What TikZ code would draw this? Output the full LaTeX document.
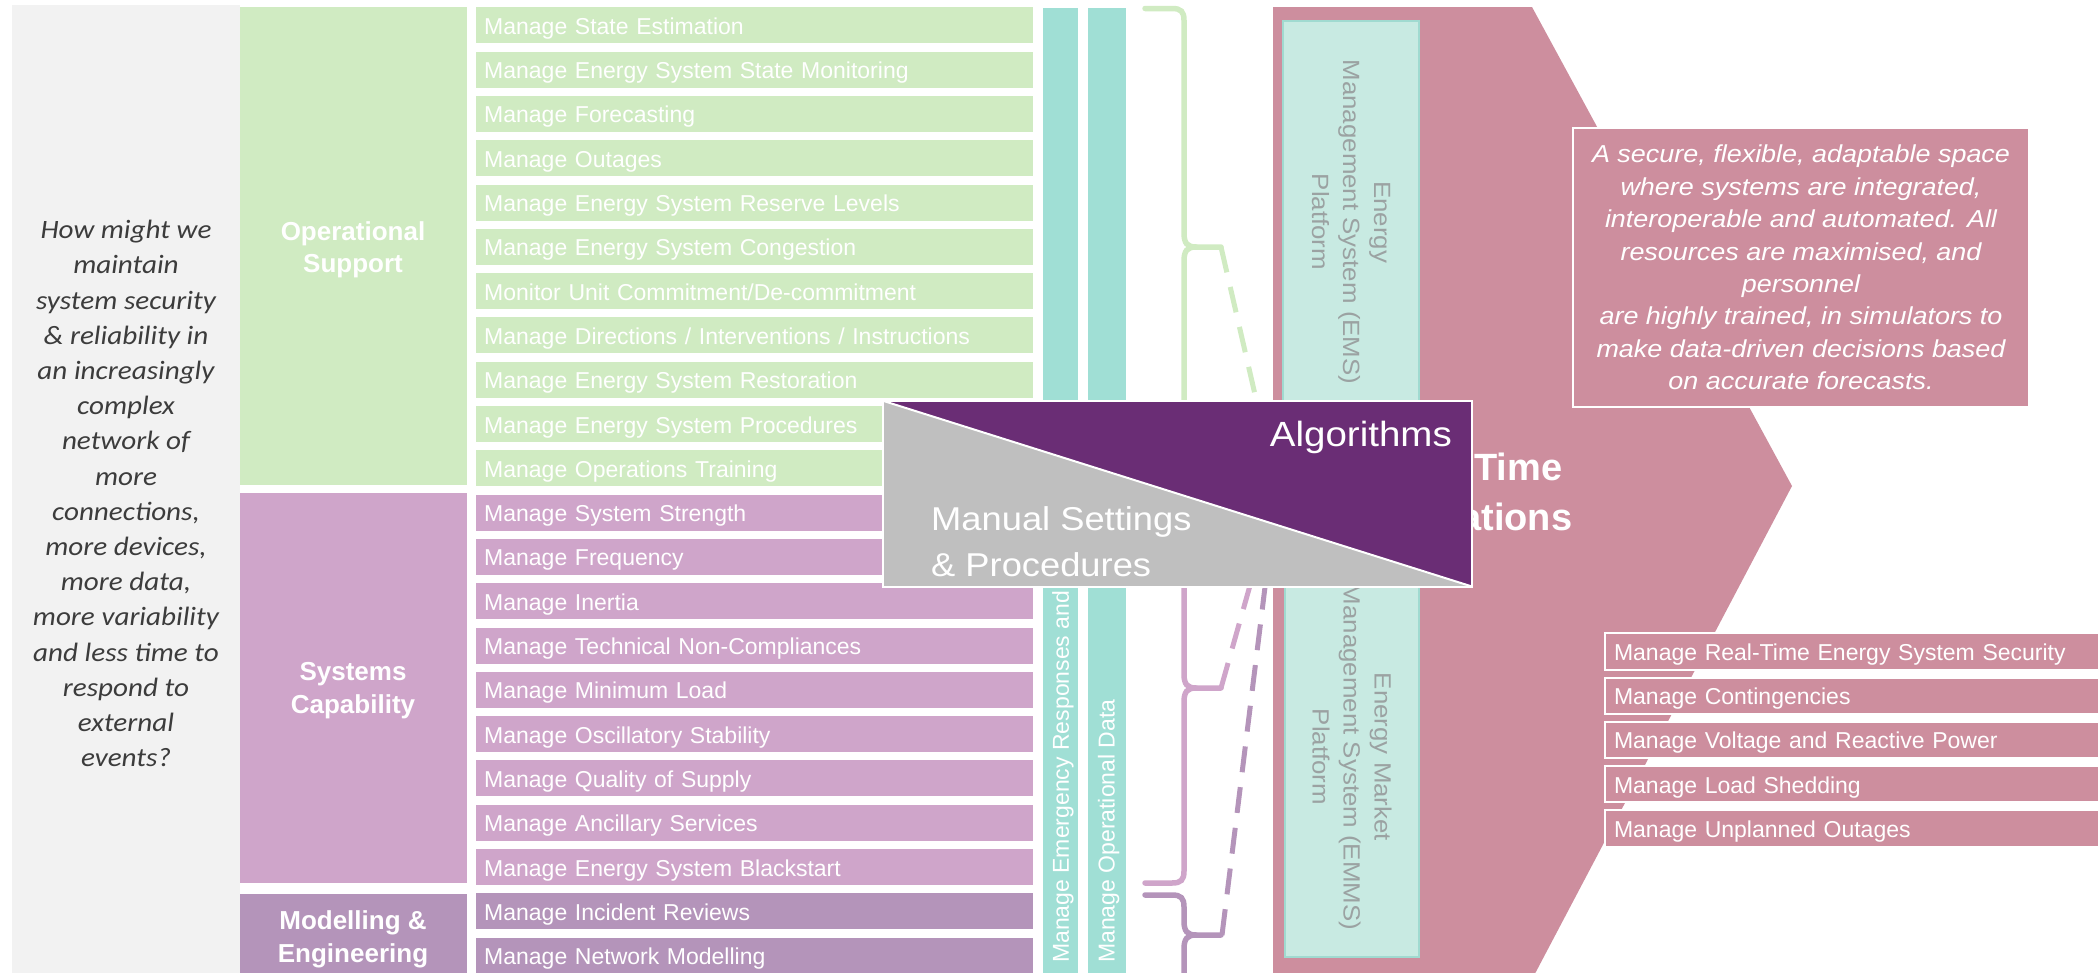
\documentclass[tikz,border=0pt]{standalone}
\usepackage{fontspec}
\setmainfont{Liberation Sans}
\newfontfamily\qfont{Carlito}[FakeStretch=1.1]
\newfontfamily\widefont{Liberation Sans}[FakeStretch=1.1]
\usetikzlibrary{calc}

\definecolor{panelgray}{RGB}{242,242,242}
\definecolor{qtext}{RGB}{60,60,60}
\definecolor{opgreen}{RGB}{208,235,194}
\definecolor{capviolet}{RGB}{207,165,202}
\definecolor{modviolet}{RGB}{180,148,186}
\definecolor{barteal}{RGB}{160,223,213}
\definecolor{emsfill}{RGB}{200,234,226}
\definecolor{emsline}{RGB}{160,218,208}
\definecolor{emstext}{RGB}{155,162,162}
\definecolor{rtpink}{RGB}{205,142,158}
\definecolor{algviolet}{RGB}{106,45,117}
\definecolor{mangray}{RGB}{191,191,191}

% curly brace: #1 colour, #2 top, #3 cusp, #4 bottom
\newcommand\groupbrace[4]{%
  \draw[braceline,#1] (1145,#2) -- (1172,#2) .. controls (1181,#2) and (1184,#2+3) .. (1184,#2+12)
     -- (1184,#3-14) .. controls (1184,#3-4) and (1187,#3) .. (1196,#3) -- (1221,#3);
  \draw[braceline,#1] (1145,#4) -- (1172,#4) .. controls (1181,#4) and (1184,#4-3) .. (1184,#4-12)
     -- (1184,#3+14) .. controls (1184,#3+4) and (1187,#3) .. (1196,#3);
}

\begin{document}
\begin{tikzpicture}[x=1pt,y=-1pt,
  itembox/.style={rectangle, anchor=north west, inner xsep=8.5pt, inner ysep=0pt, outer sep=0pt,
    text width=540pt, align=left, minimum height=36pt, text height=18pt, text depth=0pt,
    text=white, font=\fontsize{23}{27}\selectfont},
  groupbox/.style={rectangle, anchor=north west, inner sep=0pt, outer sep=0pt, minimum width=226.5pt},
  grouplabel/.style={anchor=base, align=center, inner sep=0pt, text=white,
    font=\bfseries\fontsize{26}{32.5}\selectfont},
  bartext/.style={rotate=90, anchor=base west, inner sep=0pt, text=white, font=\fontsize{23}{27}\selectfont},
  braceline/.style={line width=5.5pt, line cap=round},
  linkline/.style={line width=5pt, dash pattern=on 26pt off 15pt},
  platform/.style={rectangle, rotate=-90, fill=emsfill, draw=emsline, line width=1.5pt, align=center,
    text=emstext, font=\widefont\fontsize{23.5}{31}\selectfont},
  rtitem/.style={rectangle, anchor=north west, fill=rtpink, draw=white, line width=2pt,
    inner xsep=9pt, inner ysep=0pt, outer sep=0pt, text width=502pt, align=left,
    minimum height=36.5pt, text height=18pt, text depth=0pt, text=white,
    font=\fontsize{23}{27}\selectfont}
]
\useasboundingbox (0,0) rectangle (2098,972);

% question panel (multi-line nodes are placed by the baseline of their last line)
\fill[panelgray] (12,5) rectangle (240,985);
\node[anchor=base, align=center, inner sep=0pt, text=qtext,
      font=\qfont\itshape\fontsize{26.5}{35.2}\selectfont] (question) at (126,766.7)
  {How might we\\maintain\\system security\\\& reliability in\\an increasingly\\complex\\network of\\more\\connections,\\more devices,\\more data,\\more variability\\and less time to\\respond to\\external\\events?};

% function groups
\node[groupbox, fill=opgreen, minimum height=478pt] (opbox) at (240,7.3) {};
\node[groupbox, fill=capviolet, minimum height=390pt] (capbox) at (240,493) {};
\node[groupbox, fill=modviolet, minimum height=90pt] (modbox) at (240,894) {};
\node[grouplabel] (oplabel) at (353,272.5) {Operational\\Support};
\node[grouplabel] (caplabel) at (353,713) {Systems\\Capability};
\node[grouplabel] (modlabel) at (353,962) {Modelling \&\\Engineering};

% managed functions
\foreach \txt [count=\i from 0] in {Manage State Estimation, Manage Energy System State Monitoring,
    Manage Forecasting, Manage Outages, Manage Energy System Reserve Levels,
    Manage Energy System Congestion, Monitor Unit Commitment/De-commitment,
    {Manage Directions / Interventions / Instructions}, Manage Energy System Restoration,
    Manage Energy System Procedures, Manage Operations Training}
  \node[itembox, fill=opgreen] (op\i) at (475.7,{7.3+44.3*\i}) {\txt};
\foreach \txt [count=\i from 11] in {Manage System Strength, Manage Frequency, Manage Inertia,
    Manage Technical Non-Compliances, Manage Minimum Load, Manage Oscillatory Stability,
    Manage Quality of Supply, Manage Ancillary Services, Manage Energy System Blackstart}
  \node[itembox, fill=capviolet] (cap\i) at (475.7,{7.3+44.3*\i}) {\txt};
\foreach \txt [count=\i from 20] in {Manage Incident Reviews, Manage Network Modelling}
  \node[itembox, fill=modviolet] (mod\i) at (475.7,{7.3+44.3*\i}) {\txt};

% cross-cutting bars
\fill[barteal] (1042.7,8.3) rectangle (1078.3,985);
\fill[barteal] (1088.3,8.3) rectangle (1126,985);
\node[bartext] (emergency) at (1068.8,963) {Manage Emergency Responses and Operations};
\node[bartext] (opdata) at (1114.5,963) {Manage Operational Data};

% braces and links towards real-time operations
\coordinate (rtin) at (1277,490);
\coordinate (optip) at (1221,247);
\coordinate (captip) at (1221,688);
\coordinate (modtip) at (1222,935);
\groupbrace{opgreen}{8.5}{247}{485}
\groupbrace{capviolet}{493}{688}{883}
\groupbrace{modviolet}{895}{935}{985}
\draw[linkline, opgreen] (optip) -- (rtin);
\draw[linkline, capviolet] (captip) -- (rtin);
\draw[linkline, modviolet] (modtip) -- (rtin);

% real-time operations chevron
\fill[rtpink] (1273,7) -- (1532,7) -- (1792,486) -- (1529,985) -- (1273,985) -- cycle;
\node[platform, minimum width=402pt, minimum height=136pt] (ems) at (1351,222)
  {Energy\\Management System (EMS)\\Platform};
\node[platform, minimum width=400pt, minimum height=134pt] (emms) at (1352,757)
  {Energy Market\\Management System (EMMS)\\Platform};
\node[anchor=base, align=center, inner sep=0pt, text=white,
      font=\bfseries\fontsize{38}{50}\selectfont] (rto) at (1472,530) {Real-Time\\Operations};

% vision statement
\node[rectangle, fill=rtpink, draw=white, line width=2pt, minimum width=456pt, minimum height=279pt,
      inner sep=0pt, align=center, text=white,
      font=\widefont\itshape\fontsize{24.5}{32.4}\selectfont] (vision) at (1801,267.5)
  {A secure, flexible, adaptable space\\where systems are integrated,\\interoperable and automated. All\\resources are maximised, and\\personnel\\are highly trained, in simulators to\\make data-driven decisions based\\on accurate forecasts.};

% real-time functions
\foreach \txt [count=\i from 0] in {Manage Real-Time Energy System Security, Manage Contingencies,
    Manage Voltage and Reactive Power, Manage Load Shedding, Manage Unplanned Outages}
  \node[rtitem] (rt\i) at (1605,{633.3+44.2*\i}) {\txt};

% manual settings versus algorithms
\node[rectangle, anchor=north west, fill=mangray, inner sep=0pt, outer sep=0pt,
      minimum width=589.3pt, minimum height=185.8pt] (tribox) at (882.7,400.7) {};
\fill[algviolet] (tribox.north west) -- (tribox.north east) -- (tribox.south east) -- cycle;
\draw[white, line width=2pt] (tribox.north west) -- (tribox.south east);
\draw[white, line width=2pt] (tribox.north west) rectangle (tribox.south east);
\node[anchor=base east, inner sep=0pt, text=white, font=\widefont\fontsize{35}{42}\selectfont]
  (algo) at (1452,446.7) {Algorithms};
\node[anchor=base west, align=left, inner sep=0pt, text=white,
      font=\widefont\fontsize{33}{46.7}\selectfont] (manual) at (931,576.7)
  {Manual Settings\\\& Procedures};
\end{tikzpicture}
\end{document}
